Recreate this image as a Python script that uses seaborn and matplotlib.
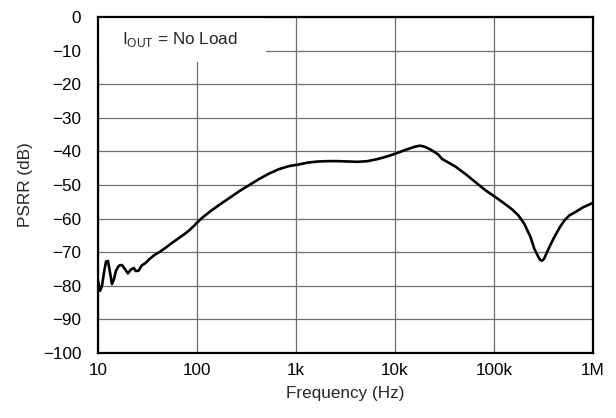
import numpy as np
import pandas as pd
import matplotlib
matplotlib.use("Agg")
import matplotlib.pyplot as plt
import seaborn as sns

# PSRR vs frequency, no load
freq_hz = [
    10.0, 10.5, 10.98, 11.5, 12.05, 12.61, 13.22, 13.84, 14.5, 15.18,
    16.27, 17.44, 18.7, 20.04, 21.47, 23.02, 24.0, 25.71, 27.56, 30.26,
    33.23, 37.27, 42.57, 48.62, 55.52, 63.42, 72.43, 82.72, 94.47, 100.0,
    112.3, 135.3, 170.1, 213.9, 268.9, 338.1, 425.1, 534.4, 671.9, 844.7,
    1062, 1335, 1679, 2110, 2653, 3336, 4194, 5273, 6629, 8334,
    10480, 12620, 14150, 15870, 17790, 19950, 23340, 27250, 30020, 33180,
    41170, 51840, 65270, 82180, 103500, 125800, 151500, 175900, 202600, 233300,
    255400, 279600, 292600, 306200, 320400, 343200, 375600, 415200, 463900, 518800,
    580900, 669300, 786800, 1000000,
]
psrr_db = [
    -78.5, -81.5, -80.0, -76.0, -72.8, -72.6, -76.0, -79.5, -78.0, -75.5,
    -74.0, -73.8, -75.0, -76.3, -75.2, -74.7, -75.6, -75.5, -74.0, -73.2,
    -72.0, -70.8, -69.8, -68.6, -67.3, -66.1, -64.9, -63.6, -62.0, -61.2,
    -59.8, -57.9, -55.8, -53.8, -51.8, -50.0, -48.2, -46.6, -45.3, -44.4,
    -43.9, -43.3, -43.0, -42.9, -42.9, -43.0, -43.1, -42.9, -42.3, -41.5,
    -40.5, -39.6, -39.1, -38.6, -38.3, -38.6, -39.6, -40.9, -42.3, -43.0,
    -44.6, -46.8, -49.2, -51.6, -53.6, -55.4, -57.2, -59.0, -61.6, -65.4,
    -69.0, -71.3, -72.3, -72.5, -72.0, -70.0, -67.5, -65.0, -62.5, -60.4,
    -59.0, -58.0, -56.7, -55.3,
]

x_ticks = [10, 100, 1e3, 1e4, 1e5, 1e6]
x_tick_labels = ["10", "100", "1k", "10k", "100k", "1M"]
y_ticks = [0, -10, -20, -30, -40, -50, -60, -70, -80, -90, -100]
y_tick_labels = ["0", "\u221210", "\u221220", "\u221230", "\u221240", "\u221250",
                 "\u221260", "\u221270", "\u221280", "\u221290", "\u2212100"]

df = pd.DataFrame({"Frequency (Hz)": freq_hz, "PSRR (dB)": psrr_db})

sns.set_style("white")
plt.rcParams["font.family"] = ["Liberation Sans", "DejaVu Sans"]
plt.rcParams["mathtext.fontset"] = "custom"
plt.rcParams["mathtext.rm"] = "Liberation Sans"

FS = 12.3

fig = plt.figure(figsize=(6.16, 4.18), dpi=100)
ax = fig.add_axes([98 / 616, 1 - 353 / 418, (593 - 98) / 616, (353 - 17) / 418])

sns.lineplot(data=df, x="Frequency (Hz)", y="PSRR (dB)", ax=ax,
             color="black", linewidth=1.9, zorder=4)

ax.set_xscale("log")
ax.set_xlim(10, 1e6)
ax.set_ylim(-100, 0)
ax.set_xticks(x_ticks)
ax.set_xticklabels(x_tick_labels)
ax.set_yticks(y_ticks)
ax.set_yticklabels(y_tick_labels)
ax.minorticks_off()
ax.tick_params(axis="both", length=0, labelsize=FS, colors="black")
ax.tick_params(axis="x", pad=7)
ax.tick_params(axis="y", pad=12)

ax.grid(True, which="major", color="#6e6e6e", linewidth=0.9, zorder=1)
ax.set_axisbelow(True)
for s in ax.spines.values():
    s.set_visible(True)
    s.set_color("black")
    s.set_linewidth(1.6)
    s.set_zorder(6)

ax.set_xlabel("Frequency (Hz)", fontsize=FS, labelpad=6)
ax.set_ylabel("PSRR (dB)", fontsize=FS, labelpad=7)

# condition label in a white box at the upper left
ax.add_patch(plt.Rectangle((0.0, 0.865), 0.339, 0.135, transform=ax.transAxes,
                           facecolor="white", edgecolor="none", zorder=3))
ax.text(0.048, 0.932, r"I$_{\mathrm{OUT}}$ = No Load", transform=ax.transAxes,
        fontsize=FS, ha="left", va="center", zorder=5)

fig.savefig("out.png", dpi=100)
